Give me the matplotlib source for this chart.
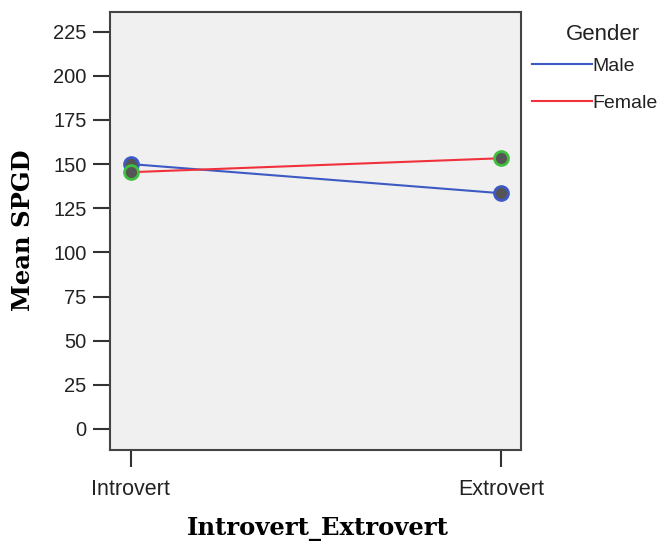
import matplotlib
matplotlib.use('Agg')
import matplotlib.pyplot as plt
from matplotlib.lines import Line2D

# data
categories = ['Introvert', 'Extrovert']
male_means = [150.0, 133.5]
female_means = [145.4, 153.3]
yticks = [0, 25, 50, 75, 100, 125, 150, 175, 200, 225]
legend_labels = ['Male', 'Female']

fig = plt.figure(figsize=(6.64, 5.46), dpi=100)
ax = fig.add_axes([0.1657, 0.1758, 0.619, 0.8022])
ax.set_facecolor('#f0f0f0')

x = list(range(len(categories)))
ax.plot(x, male_means, color='#3d59c4', lw=1.5, zorder=2)
ax.plot(x, female_means, color='#f0313b', lw=1.5, zorder=2)
ax.plot(x, male_means, ls='none', marker='o', ms=10, mfc='#555555',
        mec='#3d59c4', mew=2, zorder=3)
ax.plot(x, female_means, ls='none', marker='o', ms=10, mfc='#555555',
        mec='#3fbf3f', mew=2, zorder=3)

ax.set_xlim(-0.056, 1.054)
ax.set_ylim(-11.9, 236.1)
ax.set_xticks(x)
ax.set_xticklabels(categories)
ax.set_yticks(yticks)

for s in ax.spines.values():
    s.set_color('#444444')
    s.set_linewidth(1.5)
ax.tick_params(axis='both', direction='out', length=12, width=1.5,
               color='#333333', labelsize=14.5, pad=5)
ax.tick_params(axis='x', labelsize=15.5, pad=9)
for lab in ax.get_xticklabels() + ax.get_yticklabels():
    lab.set_family('Liberation Sans')
    lab.set_color('#222222')

fig.text(0.478, 1 - 529 / 546, 'Introvert_Extrovert', ha='center',
         va='center', family='DejaVu Serif', weight='bold', fontsize=17.5)
fig.text(23 / 664, 1 - 230 / 546, 'Mean SPGD', ha='center', va='center',
         rotation=90, family='DejaVu Serif', weight='bold', fontsize=17.5)

# legend
fig.text(603 / 664, 1 - 34 / 546, 'Gender', ha='center', va='center',
         family='Liberation Sans', fontsize=16, color='#222222')
handles = [Line2D([], [], color='#3d59c4', lw=1.5),
           Line2D([], [], color='#f0313b', lw=1.5)]
leg = ax.legend(handles, legend_labels,
                loc='center left', bbox_to_anchor=(1.007, 0.834), frameon=False,
                handlelength=3.1, handletextpad=0.0, labelspacing=1.0,
                prop={'family': 'Liberation Sans', 'size': 14},
                borderaxespad=0)
for t in leg.get_texts():
    t.set_color('#222222')

plt.savefig('out.png', dpi=100)
plt.close()
